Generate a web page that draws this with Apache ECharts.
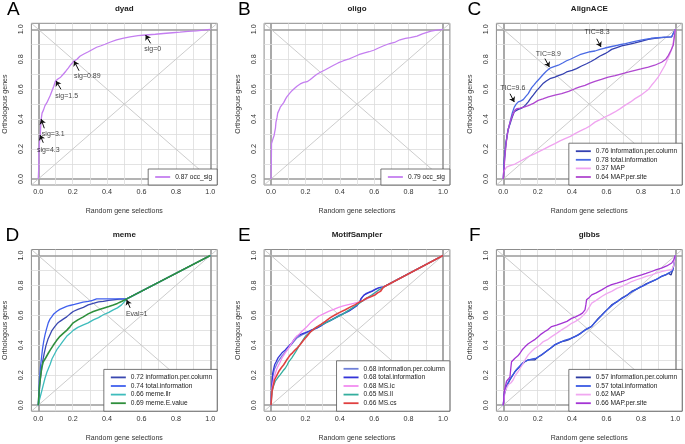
<!DOCTYPE html>
<html><head><meta charset="utf-8">
<script src="https://cdn.jsdelivr.net/npm/echarts@6/dist/echarts.min.js"></script>
<style>html,body{margin:0;padding:0;background:#fff}#c{width:685px;height:444px}</style>
</head><body><div id="c"></div>
<script>
// ---------- data ----------
const panelLetters = ['A','B','C','D','E','F'];
const panelTitles = ['dyad','oligo','AlignACE','meme','MotifSampler','gibbs'];
const tickValues = [0,0.2,0.4,0.6,0.8,1.0];
const gridValues = [0,0.1,0.2,0.3,0.4,0.5,0.6,0.7,0.8,0.9,1.0];
const xTitle = 'Random gene selections';
const yTitle = 'Orthologous genes';

const dyadOccSig = [[0,0],[0.003,0.08],[0.004,0.2],[0.008,0.26],[0.012,0.3],[0.014,0.35],[0.017,0.40],[0.022,0.44],[0.03,0.46],[0.039,0.49],[0.05,0.51],[0.058,0.53],[0.07,0.56],[0.078,0.57],[0.09,0.62],[0.1,0.655],[0.116,0.67],[0.13,0.68],[0.145,0.70],[0.16,0.72],[0.174,0.74],[0.19,0.765],[0.208,0.788],[0.225,0.80],[0.242,0.82],[0.265,0.835],[0.291,0.85],[0.315,0.865],[0.339,0.88],[0.365,0.89],[0.388,0.90],[0.42,0.915],[0.455,0.93],[0.49,0.94],[0.533,0.95],[0.58,0.957],[0.624,0.962],[0.68,0.967],[0.727,0.972],[0.78,0.977],[0.824,0.981],[0.87,0.986],[0.92,0.99],[0.96,0.995],[1,1]];

const oligoOccSig = [[0,0],[0.002,0.1],[0.003,0.236],[0.01,0.24],[0.012,0.27],[0.018,0.29],[0.021,0.31],[0.026,0.34],[0.029,0.38],[0.035,0.41],[0.039,0.44],[0.047,0.46],[0.054,0.48],[0.064,0.495],[0.074,0.51],[0.085,0.535],[0.093,0.55],[0.107,0.57],[0.122,0.59],[0.136,0.605],[0.151,0.62],[0.17,0.635],[0.19,0.645],[0.21,0.65],[0.229,0.665],[0.25,0.685],[0.267,0.70],[0.29,0.715],[0.316,0.73],[0.34,0.745],[0.364,0.76],[0.39,0.775],[0.422,0.79],[0.45,0.80],[0.48,0.815],[0.51,0.83],[0.539,0.84],[0.57,0.85],[0.597,0.86],[0.625,0.875],[0.655,0.89],[0.69,0.905],[0.723,0.915],[0.75,0.93],[0.781,0.94],[0.81,0.945],[0.849,0.955],[0.88,0.97],[0.907,0.98],[0.93,0.988],[0.955,0.993],[1,1]];

const alignInfoPerCol = [[0,0],[0.006,0.136],[0.016,0.247],[0.029,0.336],[0.04,0.37],[0.048,0.40],[0.064,0.45],[0.087,0.465],[0.1,0.47],[0.116,0.48],[0.13,0.495],[0.145,0.515],[0.16,0.54],[0.174,0.56],[0.194,0.59],[0.21,0.61],[0.233,0.64],[0.25,0.655],[0.271,0.67],[0.3,0.68],[0.32,0.69],[0.345,0.70],[0.368,0.715],[0.4,0.725],[0.426,0.737],[0.455,0.755],[0.484,0.77],[0.51,0.785],[0.533,0.80],[0.56,0.82],[0.591,0.837],[0.61,0.85],[0.63,0.866],[0.66,0.878],[0.688,0.889],[0.73,0.90],[0.766,0.91],[0.8,0.92],[0.843,0.933],[0.88,0.94],[0.92,0.944],[0.95,0.947],[0.979,0.95],[0.99,0.96],[1,1]];
const alignTotalInfo = [[0,0],[0.006,0.114],[0.014,0.225],[0.025,0.31],[0.039,0.38],[0.052,0.44],[0.064,0.48],[0.075,0.50],[0.087,0.515],[0.1,0.52],[0.116,0.53],[0.13,0.55],[0.145,0.57],[0.155,0.59],[0.165,0.61],[0.18,0.63],[0.194,0.65],[0.21,0.67],[0.233,0.70],[0.25,0.72],[0.271,0.74],[0.295,0.75],[0.32,0.76],[0.345,0.775],[0.368,0.79],[0.39,0.80],[0.417,0.815],[0.445,0.83],[0.475,0.84],[0.505,0.85],[0.533,0.855],[0.562,0.866],[0.591,0.875],[0.63,0.885],[0.669,0.895],[0.71,0.905],[0.746,0.915],[0.785,0.925],[0.824,0.933],[0.86,0.94],[0.901,0.944],[0.94,0.947],[0.979,0.95],[0.99,0.96],[1,1]];
const alignMap = [[0,0],[0.002,0.05],[0.019,0.08],[0.04,0.09],[0.068,0.10],[0.1,0.12],[0.126,0.136],[0.155,0.155],[0.184,0.17],[0.21,0.185],[0.242,0.203],[0.27,0.22],[0.30,0.236],[0.33,0.255],[0.359,0.27],[0.39,0.285],[0.417,0.303],[0.445,0.32],[0.475,0.336],[0.505,0.355],[0.533,0.38],[0.56,0.395],[0.591,0.414],[0.62,0.43],[0.649,0.448],[0.68,0.47],[0.707,0.492],[0.74,0.515],[0.766,0.537],[0.8,0.56],[0.824,0.581],[0.845,0.60],[0.862,0.626],[0.88,0.65],[0.90,0.68],[0.92,0.72],[0.94,0.76],[0.955,0.80],[0.969,0.837],[0.98,0.87],[0.988,0.915],[1,1]];
const alignMapPerSite = [[0,0],[0.01,0.158],[0.018,0.25],[0.025,0.31],[0.035,0.36],[0.045,0.40],[0.055,0.43],[0.068,0.46],[0.08,0.47],[0.097,0.474],[0.12,0.48],[0.145,0.49],[0.175,0.505],[0.203,0.525],[0.23,0.535],[0.262,0.548],[0.3,0.56],[0.339,0.57],[0.38,0.585],[0.417,0.603],[0.445,0.615],[0.475,0.625],[0.505,0.64],[0.533,0.652],[0.57,0.665],[0.61,0.68],[0.65,0.69],[0.688,0.703],[0.73,0.715],[0.766,0.726],[0.8,0.735],[0.843,0.748],[0.88,0.76],[0.92,0.78],[0.945,0.80],[0.96,0.826],[0.975,0.86],[0.988,0.893],[1,1]];

const memeInfoPerCol = [[0,0],[0.01,0.158],[0.018,0.23],[0.025,0.29],[0.035,0.35],[0.045,0.40],[0.056,0.44],[0.068,0.47],[0.08,0.50],[0.097,0.526],[0.11,0.545],[0.126,0.56],[0.145,0.575],[0.165,0.59],[0.185,0.61],[0.203,0.626],[0.23,0.64],[0.262,0.653],[0.29,0.67],[0.32,0.68],[0.35,0.69],[0.378,0.693],[0.41,0.70],[0.436,0.704],[0.47,0.708],[0.514,0.71],[1,1]];
const memeTotalInfo = [[0,0],[0.006,0.158],[0.014,0.27],[0.025,0.38],[0.032,0.43],[0.039,0.47],[0.048,0.51],[0.058,0.55],[0.068,0.575],[0.078,0.59],[0.09,0.61],[0.107,0.626],[0.125,0.64],[0.145,0.65],[0.165,0.66],[0.184,0.666],[0.21,0.673],[0.233,0.68],[0.26,0.688],[0.291,0.693],[0.315,0.70],[0.339,0.71],[0.37,0.71],[0.397,0.71],[0.45,0.71],[0.514,0.71],[1,1]];
const memeLlr = [[0,0],[0.01,0.05],[0.019,0.09],[0.03,0.14],[0.039,0.18],[0.05,0.22],[0.068,0.27],[0.08,0.31],[0.097,0.347],[0.11,0.375],[0.126,0.40],[0.145,0.43],[0.165,0.46],[0.185,0.48],[0.203,0.50],[0.23,0.52],[0.262,0.537],[0.29,0.55],[0.32,0.57],[0.35,0.585],[0.378,0.604],[0.41,0.62],[0.436,0.637],[0.46,0.65],[0.484,0.67],[0.5,0.69],[0.514,0.71],[1,1]];
const memeEValue = [[0,0],[0.006,0.114],[0.014,0.2],[0.02,0.25],[0.029,0.29],[0.04,0.31],[0.058,0.347],[0.07,0.37],[0.087,0.40],[0.105,0.43],[0.126,0.46],[0.145,0.48],[0.165,0.50],[0.185,0.525],[0.203,0.55],[0.23,0.57],[0.262,0.59],[0.29,0.61],[0.32,0.626],[0.35,0.637],[0.378,0.648],[0.41,0.66],[0.436,0.67],[0.46,0.68],[0.484,0.693],[0.514,0.71],[1,1]];

const msInfoPerCol = [[0,0],[0.004,0.1],[0.01,0.19],[0.02,0.24],[0.04,0.29],[0.064,0.33],[0.093,0.37],[0.122,0.41],[0.151,0.45],[0.18,0.47],[0.219,0.49],[0.267,0.515],[0.316,0.55],[0.374,0.585],[0.432,0.62],[0.48,0.65],[0.516,0.69],[0.53,0.72],[0.55,0.745],[0.59,0.765],[0.626,0.785],[0.655,0.79],[1,1]];
const msTotalInfo = [[0,0],[0.004,0.115],[0.01,0.215],[0.021,0.27],[0.03,0.29],[0.041,0.316],[0.05,0.33],[0.064,0.35],[0.08,0.365],[0.093,0.383],[0.107,0.40],[0.122,0.416],[0.135,0.44],[0.151,0.46],[0.165,0.47],[0.18,0.476],[0.2,0.485],[0.219,0.494],[0.24,0.505],[0.267,0.516],[0.29,0.53],[0.316,0.55],[0.345,0.565],[0.374,0.583],[0.4,0.60],[0.432,0.616],[0.455,0.63],[0.48,0.65],[0.5,0.665],[0.516,0.69],[0.522,0.71],[0.529,0.716],[0.54,0.735],[0.548,0.74],[0.565,0.75],[0.587,0.76],[0.61,0.775],[0.626,0.783],[0.64,0.787],[0.655,0.79],[1,1]];
const msIc = [[0,0],[0.006,0.115],[0.016,0.18],[0.035,0.247],[0.05,0.28],[0.064,0.316],[0.083,0.35],[0.103,0.383],[0.12,0.415],[0.141,0.45],[0.16,0.47],[0.18,0.494],[0.205,0.52],[0.229,0.55],[0.25,0.57],[0.277,0.594],[0.305,0.61],[0.335,0.627],[0.365,0.64],[0.393,0.654],[0.42,0.663],[0.45,0.672],[0.48,0.68],[0.516,0.69],[0.54,0.70],[0.568,0.716],[0.59,0.735],[0.616,0.76],[0.635,0.775],[0.655,0.79],[1,1]];
const msLl = [[0,0],[0.006,0.092],[0.015,0.13],[0.025,0.16],[0.04,0.185],[0.054,0.204],[0.07,0.23],[0.083,0.247],[0.095,0.27],[0.103,0.29],[0.12,0.315],[0.132,0.336],[0.145,0.36],[0.16,0.39],[0.18,0.425],[0.2,0.46],[0.23,0.49],[0.258,0.516],[0.3,0.54],[0.335,0.56],[0.375,0.583],[0.413,0.605],[0.46,0.64],[0.516,0.683],[0.55,0.71],[0.587,0.738],[0.62,0.765],[0.655,0.79],[1,1]];
const msCs = [[0,0],[0.006,0.092],[0.021,0.17],[0.045,0.225],[0.06,0.25],[0.074,0.27],[0.09,0.30],[0.112,0.336],[0.125,0.35],[0.141,0.37],[0.155,0.385],[0.17,0.405],[0.19,0.435],[0.209,0.46],[0.23,0.49],[0.258,0.516],[0.29,0.54],[0.316,0.56],[0.345,0.585],[0.374,0.604],[0.4,0.62],[0.432,0.638],[0.46,0.655],[0.49,0.672],[0.516,0.69],[0.535,0.70],[0.558,0.716],[0.58,0.725],[0.607,0.738],[0.62,0.75],[0.636,0.76],[0.645,0.775],[0.655,0.79],[1,1]];

const gibbsInfoPerCol = [[0,0],[0.006,0.07],[0.019,0.125],[0.039,0.17],[0.055,0.2],[0.068,0.225],[0.085,0.245],[0.107,0.27],[0.125,0.29],[0.145,0.303],[0.165,0.303],[0.184,0.303],[0.2,0.32],[0.223,0.336],[0.24,0.35],[0.262,0.37],[0.28,0.385],[0.3,0.403],[0.32,0.415],[0.339,0.425],[0.36,0.43],[0.378,0.436],[0.4,0.45],[0.436,0.47],[0.455,0.485],[0.475,0.503],[0.495,0.515],[0.514,0.526],[0.53,0.55],[0.552,0.58],[0.57,0.6],[0.591,0.625],[0.61,0.645],[0.63,0.67],[0.66,0.69],[0.688,0.715],[0.72,0.735],[0.746,0.76],[0.775,0.775],[0.804,0.793],[0.83,0.81],[0.862,0.826],[0.89,0.84],[0.92,0.86],[0.945,0.87],[0.959,0.882],[0.975,0.87],[0.988,0.915],[1,1]];
const gibbsTotalInfo = [[0,0],[0.006,0.08],[0.019,0.13],[0.039,0.175],[0.06,0.21],[0.075,0.235],[0.095,0.26],[0.115,0.285],[0.14,0.3],[0.17,0.31],[0.195,0.315],[0.22,0.335],[0.25,0.36],[0.275,0.38],[0.3,0.405],[0.33,0.42],[0.36,0.435],[0.39,0.445],[0.42,0.46],[0.45,0.48],[0.48,0.505],[0.51,0.525],[0.535,0.555],[0.56,0.585],[0.585,0.615],[0.61,0.645],[0.64,0.675],[0.67,0.7],[0.7,0.72],[0.73,0.745],[0.76,0.765],[0.79,0.785],[0.82,0.8],[0.85,0.82],[0.88,0.835],[0.91,0.855],[0.94,0.87],[0.965,0.885],[0.985,0.9],[1,1]];
const gibbsMap = [[0,0],[0.01,0.092],[0.029,0.136],[0.045,0.15],[0.058,0.17],[0.07,0.2],[0.087,0.225],[0.1,0.25],[0.116,0.28],[0.13,0.31],[0.145,0.336],[0.165,0.36],[0.184,0.38],[0.21,0.40],[0.233,0.425],[0.26,0.44],[0.281,0.458],[0.31,0.48],[0.339,0.503],[0.37,0.525],[0.397,0.547],[0.42,0.56],[0.446,0.58],[0.465,0.60],[0.484,0.625],[0.5,0.655],[0.514,0.682],[0.54,0.70],[0.572,0.726],[0.6,0.745],[0.63,0.76],[0.66,0.78],[0.688,0.793],[0.72,0.81],[0.746,0.826],[0.775,0.838],[0.804,0.849],[0.83,0.86],[0.862,0.871],[0.89,0.882],[0.92,0.893],[0.95,0.9],[0.979,0.905],[0.99,0.93],[1,1]];
const gibbsMapPerSite = [[0,0],[0.006,0.092],[0.019,0.16],[0.03,0.175],[0.039,0.19],[0.044,0.25],[0.048,0.29],[0.068,0.314],[0.085,0.33],[0.097,0.347],[0.11,0.37],[0.126,0.39],[0.145,0.41],[0.165,0.425],[0.185,0.44],[0.203,0.458],[0.22,0.475],[0.242,0.492],[0.26,0.505],[0.281,0.525],[0.31,0.535],[0.339,0.547],[0.37,0.56],[0.397,0.58],[0.42,0.59],[0.446,0.605],[0.46,0.615],[0.475,0.637],[0.48,0.67],[0.484,0.704],[0.5,0.72],[0.514,0.737],[0.54,0.75],[0.572,0.77],[0.6,0.79],[0.63,0.805],[0.66,0.815],[0.688,0.826],[0.72,0.838],[0.746,0.85],[0.775,0.86],[0.804,0.87],[0.83,0.88],[0.862,0.893],[0.89,0.905],[0.92,0.915],[0.95,0.93],[0.979,0.95],[0.99,0.97],[1,1]];

// annotations: [tail, tip] and label positions
const dyadArrows = [[[0.029,0.242],[0.01,0.294]],[[0.035,0.339],[0.016,0.40]],[[0.132,0.599],[0.103,0.655]],[[0.237,0.723],[0.208,0.788]],[[0.653,0.906],[0.624,0.962]]];
const dyadNotes = [[0.058,0.194,'sig=4.3'],[0.087,0.30,'sig=3.1'],[0.165,0.556,'sig=1.5'],[0.285,0.688,'sig=0.89'],[0.665,0.868,'sig=0']];
const alignArrows = [[[0.039,0.57],[0.064,0.514]],[[0.242,0.804],[0.268,0.748]],[[0.543,0.937],[0.568,0.882]]];
const alignNotes = [[0.055,0.61,'TIC=9.6'],[0.262,0.837,'TIC=8.9'],[0.545,0.982,'TIC=8.3']];
const memeArrows = [[[0.534,0.65],[0.514,0.703]]];
const memeNotes = [[0.572,0.609,'Eval=1']];

// ---------- build ----------
const FONT = '"Liberation Sans", Arial, Helvetica, sans-serif';
const W = 685, H = 444;
const colLeft = [31.4, 264.1, 496.4];
const rowTop = [23.3, 249.5];
const boxW = 185.8, boxH = 161.7;
const LO = -0.04, HI = 1.04;

const panelSeries = [
  [{name:'0.87 occ_sig', data:dyadOccSig, color:'#c47ef0'}],
  [{name:'0.79 occ_sig', data:oligoOccSig, color:'#c47ef0'}],
  [{name:'0.76 information.per.column', data:alignInfoPerCol, color:'#3440b0'},
   {name:'0.78 total.information', data:alignTotalInfo, color:'#4a6ae4'},
   {name:'0.37 MAP', data:alignMap, color:'#f0a4f0'},
   {name:'0.64 MAP.per.site', data:alignMapPerSite, color:'#b048d0'}],
  [{name:'0.72 information.per.column', data:memeInfoPerCol, color:'#3a48b0'},
   {name:'0.74 total.information', data:memeTotalInfo, color:'#4060ee'},
   {name:'0.66 meme.llr', data:memeLlr, color:'#3ebcbc'},
   {name:'0.69 meme.E.value', data:memeEValue, color:'#2f8f3c', w:1.6}],
  [{name:'0.68 information.per.column', data:msInfoPerCol, color:'#7080d8'},
   {name:'0.68 total.information', data:msTotalInfo, color:'#3434d8'},
   {name:'0.68 MS.ic', data:msIc, color:'#f28cf0'},
   {name:'0.65 MS.ll', data:msLl, color:'#34ae9e'},
   {name:'0.66 MS.cs', data:msCs, color:'#e04040', w:1.6}],
  [{name:'0.57 information.per.column', data:gibbsInfoPerCol, color:'#2c3aa0'},
   {name:'0.57 total.information', data:gibbsTotalInfo, color:'#3a5ae4'},
   {name:'0.62 MAP', data:gibbsMap, color:'#f0a8f0'},
   {name:'0.66 MAP.per.site', data:gibbsMapPerSite, color:'#a434d4'}]
];
const panelArrows = [dyadArrows, [], alignArrows, memeArrows, [], []];
const panelNotes = [dyadNotes, [], alignNotes, memeNotes, [], []];
const letterX = [7, 238, 467.5, 5.5, 238, 469];

const grids = [], xAxes = [], yAxes = [], series = [], legends = [], graphics = [];
for (let i = 0; i < 6; i++) {
  const c = i % 3, r = Math.floor(i / 3);
  const left = colLeft[c], top = rowTop[r];
  grids.push({left, top, width: boxW, height: boxH, show: true, borderColor: '#8c8c8c', borderWidth: 1, backgroundColor: '#fff'});
  xAxes.push({gridIndex: i, type: 'value', min: LO, max: HI,
    axisLine: {show: false}, axisTick: {show: false}, splitLine: {show: false},
    axisLabel: {customValues: tickValues, formatter: v => v.toFixed(1), fontSize: 7.2, color: '#333', margin: 4, fontFamily: FONT},
    name: xTitle, nameLocation: 'middle', nameGap: 23,
    nameTextStyle: {fontSize: 7, color: '#333', fontFamily: FONT}});
  yAxes.push({gridIndex: i, type: 'value', min: LO, max: HI,
    axisLine: {show: false}, axisTick: {show: false}, splitLine: {show: false},
    axisLabel: {customValues: tickValues, formatter: v => v.toFixed(1), fontSize: 7.2, color: '#333', margin: 7, rotate: 90, fontFamily: FONT},
    name: yTitle, nameLocation: 'middle', nameGap: 22.5,
    nameTextStyle: {fontSize: 7, color: '#333', fontFamily: FONT}});

  const gl = [];
  gridValues.forEach(v => {
    const edge = (v === 0 || v === 1);
    const ls = edge ? {color: '#9a9a9a', width: 1.7, type: 'solid'} : {color: '#dcdcdc', width: 0.8, type: 'solid'};
    gl.push({xAxis: v, lineStyle: ls});
    gl.push({yAxis: v, lineStyle: ls});
  });
  // diagonal + grid lines
  series.push({type: 'line', xAxisIndex: i, yAxisIndex: i, silent: true, symbol: 'none', z: 2,
    data: [[LO, LO], [HI, HI]], lineStyle: {color: '#c6c6c6', width: 0.9},
    markLine: {silent: true, symbol: 'none', z: 1, animation: false, label: {show: false}, data: gl}});
  series.push({type: 'line', xAxisIndex: i, yAxisIndex: i, silent: true, symbol: 'none', z: 2,
    data: [[LO, HI], [HI, LO]], lineStyle: {color: '#c6c6c6', width: 0.9}});

  panelSeries[i].forEach(s => {
    series.push({type: 'line', name: s.name, xAxisIndex: i, yAxisIndex: i, data: s.data,
      symbol: 'none', z: 3, color: s.color, lineStyle: {color: s.color, width: s.w || 1.3}, silent: true});
  });
  if (panelArrows[i].length) {
    series.push({type: 'lines', coordinateSystem: 'cartesian2d', xAxisIndex: i, yAxisIndex: i, silent: true, z: 6,
      symbol: ['none', 'arrow'], symbolSize: 5, lineStyle: {color: '#111', width: 1, opacity: 1},
      data: panelArrows[i].map(a => ({coords: a}))});
    series.push({type: 'scatter', xAxisIndex: i, yAxisIndex: i, silent: true, z: 6, symbolSize: 1,
      itemStyle: {color: 'transparent'},
      label: {show: true, position: 'inside', fontSize: 7, color: '#111', fontFamily: FONT},
      data: panelNotes[i].map(n => ({value: [n[0], n[1]], label: {formatter: n[2]}}))});
  }
  legends.push({orient: 'vertical', right: W - (left + boxW), bottom: H - (top + boxH),
    data: panelSeries[i].map(s => ({name: s.name, icon: 'rect'})), selectedMode: false,
    backgroundColor: '#fff', borderColor: '#555', borderWidth: 0.8, borderRadius: 0,
    padding: [4, 5, 4, 7], itemGap: 0.6, itemWidth: 15, itemHeight: 1.8,
    itemStyle: {borderWidth: 0},
    textStyle: {fontSize: 6.6, color: '#222', fontFamily: FONT, lineHeight: 8, height: 8}});

  graphics.push({type: 'text', x: left + boxW / 2, y: top - 15, z: 10,
    style: {text: panelTitles[i], fill: '#222', font: 'bold 8px ' + FONT, textAlign: 'center', textVerticalAlign: 'middle'}});
  graphics.push({type: 'text', x: letterX[i], y: r === 0 ? 10 : 235.5, z: 10,
    style: {text: panelLetters[i], fill: '#000', font: '19px ' + FONT, textAlign: 'left', textVerticalAlign: 'middle'}});
}

const chart = echarts.init(document.getElementById('c'), null, {renderer: 'canvas'});
chart.setOption({
  backgroundColor: '#fff',
  animation: false,
  textStyle: {fontFamily: FONT},
  grid: grids, xAxis: xAxes, yAxis: yAxes, series, legend: legends,
  graphic: graphics
});
</script></body></html>
